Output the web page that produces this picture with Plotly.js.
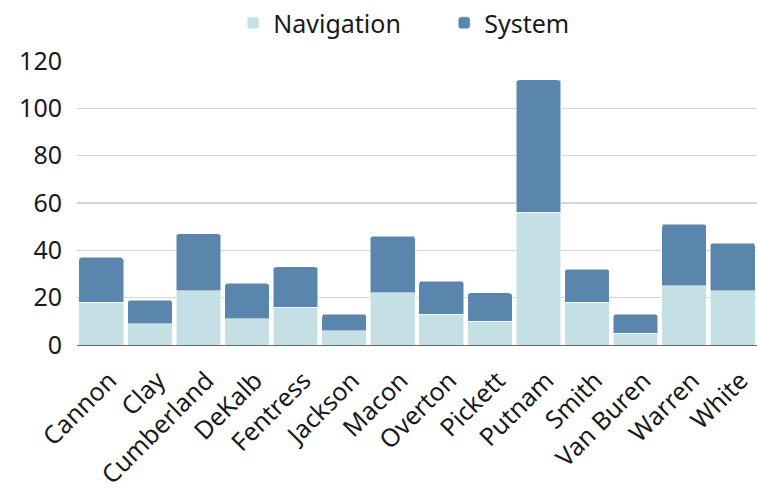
<!DOCTYPE html>
<html><head><meta charset="utf-8">
<script src="https://cdn.plot.ly/plotly-3.0.1.min.js"></script>
<style>html,body{margin:0;padding:0;background:#fff}#chart{width:757px;height:491px}</style>
</head><body><div id="chart"></div>
<script>
const counties = ["Cannon","Clay","Cumberland","DeKalb","Fentress","Jackson","Macon","Overton","Pickett","Putnam","Smith","Van Buren","Warren","White"];
const navigation = [18, 9, 23, 11, 16, 6, 22, 13, 10, 56, 18, 5, 25, 23];
const system = [19, 10, 24, 15, 17, 7, 24, 14, 12, 56, 14, 8, 26, 20];
const yTicks = [0, 20, 40, 60, 80, 100, 120];

const font = "Noto Sans, Open Sans, sans-serif";
const traces = [
  {type:"bar", name:"Navigation", x:counties, y:navigation, marker:{color:"#c5e0e5", line:{color:"#ffffff", width:0.5}}},
  {type:"bar", name:"System", x:counties, y:system, marker:{color:"#5a86ae", line:{color:"#ffffff", width:0.5}}}
];
const layout = {
  width:757, height:491,
  margin:{l:77, r:0, t:61, b:146},
  barmode:"stack", bargap:0.08, barcornerradius:3,
  paper_bgcolor:"#fff", plot_bgcolor:"#fff",
  font:{family:font, size:25, color:"#1a1a1a"},
  showlegend:true,
  legend:{orientation:"h", x:0.54, xanchor:"center", y:0.953, yanchor:"middle", yref:"container", font:{size:25}, traceorder:"normal", entrywidth:166, entrywidthmode:"pixels"},
  xaxis:{type:"category", tickangle:-45, showline:true, linecolor:"#666", linewidth:1, ticks:"", showgrid:false, tickfont:{size:25}, ticklabelstandoff:10, ticklabelshift:8, automargin:false},
  yaxis:{range:[0,120], tickvals:yTicks, ticktext:yTicks.map(String), showgrid:true, gridcolor:"#d4d4d4", gridwidth:1.5, zeroline:false, showline:false, ticks:"", tickfont:{size:25}, ticklabelstandoff:14, automargin:false}
};
Plotly.newPlot("chart", traces, layout, {displayModeBar:false, staticPlot:true});
</script></body></html>
